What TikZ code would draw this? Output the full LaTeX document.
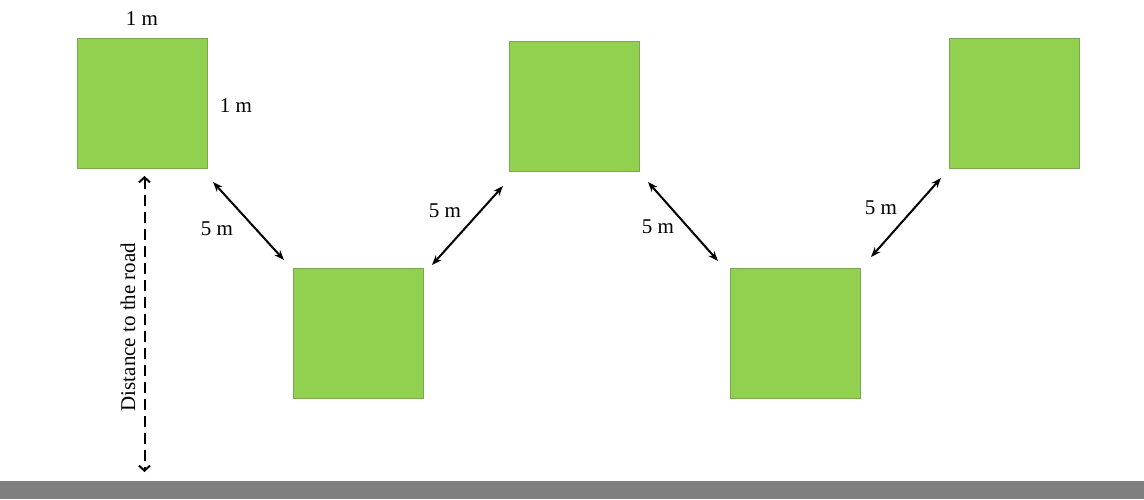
\documentclass[tikz,border=0pt]{standalone}
\usepackage{fontspec}
\setmainfont{Liberation Serif}
\usetikzlibrary{arrows.meta}
\definecolor{plotgreen}{HTML}{92D050}
\definecolor{plotedge}{HTML}{7AA850}
\definecolor{roadgray}{HTML}{7F7F7F}
\begin{document}
\begin{tikzpicture}[x=1pt,y=-1pt,
  plot/.style={draw=plotedge,line width=0.8pt,fill=plotgreen,minimum size=130pt,inner sep=0pt,outer sep=0pt},
  lbl/.style={font=\fontsize{21}{23}\selectfont,inner sep=0pt},
  dim/.style={{Stealth[length=10pt,width=7.5pt]}-{Stealth[length=10pt,width=7.5pt]},line width=2pt},
  roaddim/.style={{Straight Barb[length=5pt,width=11pt]}-{Straight Barb[length=5pt,width=11pt]},line width=2pt,dash pattern=on 11pt off 6pt}]
\useasboundingbox (0,0) rectangle (1144,499);
\fill[roadgray] (0,481) rectangle (1144,499);
\node[plot] (s1) at (142.5,103) {};
\node[plot] (s2) at (358,333.5) {};
\node[plot] (s3) at (574.5,106.5) {};
\node[plot] (s4) at (795.5,333) {};
\node[plot] (s5) at (1014.5,103) {};
\node[lbl] (w1) at (142,19) {1 m};
\node[lbl] (h1) at (236,106) {1 m};
\coordinate (a1s) at (213,182);
\coordinate (a1e) at (284,260);
\coordinate (a2s) at (432,265);
\coordinate (a2e) at (503,186);
\coordinate (a3s) at (648,182);
\coordinate (a3e) at (718,261);
\coordinate (a4s) at (871,257);
\coordinate (a4e) at (941,178);
\draw[dim] (a1s) -- (a1e);
\draw[dim] (a2s) -- (a2e);
\draw[dim] (a3s) -- (a3e);
\draw[dim] (a4s) -- (a4e);
\node[lbl] (d1) at (217,229) {5 m};
\node[lbl] (d2) at (445,211) {5 m};
\node[lbl] (d3) at (658,227) {5 m};
\node[lbl] (d4) at (881,208) {5 m};
\coordinate (rt) at (144.5,176);
\coordinate (rb) at (144.5,472);
\draw[roaddim] (rt) -- (rb);
\node[lbl,rotate=90] (rl) at (128,327) {Distance to the road};
\end{tikzpicture}
\end{document}
